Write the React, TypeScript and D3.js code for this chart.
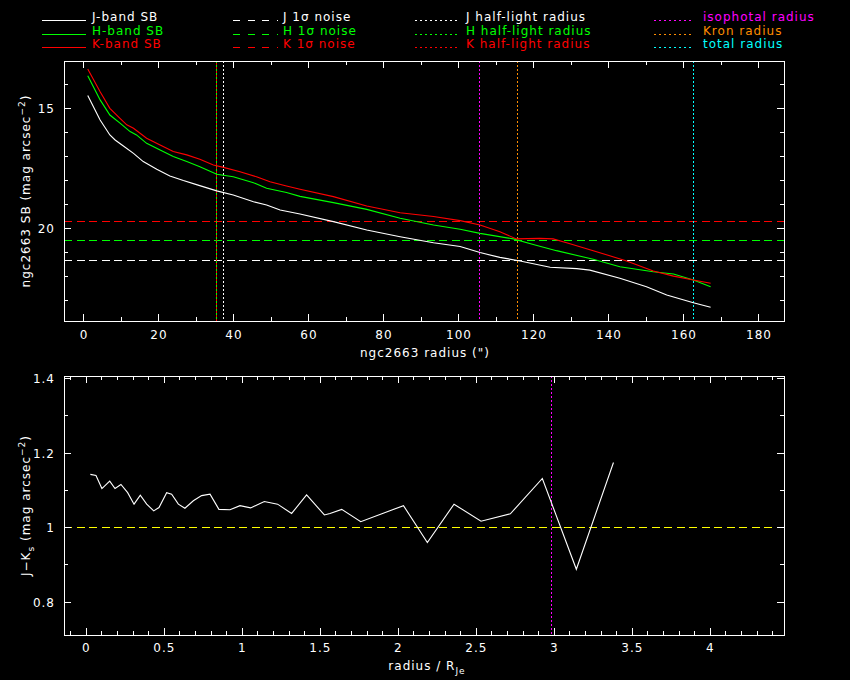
import React from "react";
import * as d3 from "d3";

// ---------- data ----------
const jRad = [1.0, 4.3, 6.9, 8.3, 10.5, 13.2, 15.8, 19.4, 22.9, 26.5, 30.0, 35.4, 39.8, 45.2, 48.7, 52.3, 57.6, 66.5, 75.4, 84.3, 93.2, 100.3, 105.6, 110.9, 116.3, 124.3, 131.4, 134.9, 142.9, 150.0, 155.4, 162.5, 167.1];
const jSB = [14.47, 15.49, 16.11, 16.32, 16.57, 16.88, 17.22, 17.54, 17.82, 18.01, 18.18, 18.44, 18.61, 18.89, 19.03, 19.24, 19.4, 19.72, 20.07, 20.35, 20.6, 20.76, 21.01, 21.21, 21.36, 21.62, 21.68, 21.74, 22.08, 22.43, 22.78, 23.1, 23.29];

const hRad = [1.0, 4.3, 6.9, 9.6, 12.3, 14.0, 16.7, 20.3, 23.8, 27.4, 30.9, 35.4, 39.8, 45.2, 48.7, 54.0, 57.6, 66.5, 75.4, 84.3, 93.2, 100.3, 105.6, 114.5, 119.8, 126.0, 135.8, 142.9, 151.8, 157.2, 162.5, 167.1];
const hSB = [13.64, 14.65, 15.28, 15.62, 15.97, 16.11, 16.46, 16.74, 17.01, 17.22, 17.43, 17.75, 17.85, 18.1, 18.33, 18.51, 18.67, 18.93, 19.21, 19.58, 19.86, 20.04, 20.21, 20.44, 20.67, 20.93, 21.29, 21.6, 21.81, 21.9, 22.15, 22.43];

const kRad = [1.0, 4.3, 6.9, 9.6, 11.4, 13.2, 16.7, 20.3, 23.8, 27.4, 30.9, 34.5, 37.2, 41.6, 46.0, 49.6, 54.0, 57.6, 66.5, 75.4, 84.3, 93.2, 100.3, 105.6, 110.9, 115.3, 121.5, 125.1, 128.7, 135.8, 144.7, 151.8, 157.2, 162.5, 167.1];
const kSB = [13.36, 14.31, 15.0, 15.42, 15.69, 15.83, 16.25, 16.53, 16.8, 16.94, 17.12, 17.36, 17.46, 17.64, 17.85, 18.06, 18.24, 18.375, 18.68, 19.07, 19.35, 19.51, 19.68, 19.86, 20.14, 20.44, 20.42, 20.44, 20.6, 20.93, 21.36, 21.78, 21.99, 22.15, 22.29];

const noiseLevels = [21.33, 20.5, 19.71]; // J, H, K 1-sigma noise
const halfLight = [37.15, 35.3, 35.3]; // J, H, K half-light radii
const isoRadius = 105.4;
const kronRadius = 115.6;
const totalRadius = 162.5;

const colRad = [0.026, 0.062, 0.1, 0.15, 0.184, 0.222, 0.265, 0.306, 0.346, 0.387, 0.432, 0.466, 0.515, 0.547, 0.59, 0.632, 0.686, 0.739, 0.793, 0.85, 0.921, 0.985, 1.053, 1.141, 1.226, 1.316, 1.412, 1.526, 1.562, 1.637, 1.759, 2.033, 2.186, 2.357, 2.53, 2.718, 2.923, 3.141, 3.379];
const colJK = [1.143, 1.14, 1.105, 1.125, 1.105, 1.116, 1.094, 1.063, 1.087, 1.063, 1.045, 1.054, 1.094, 1.09, 1.063, 1.052, 1.072, 1.086, 1.09, 1.049, 1.048, 1.059, 1.053, 1.07, 1.063, 1.038, 1.088, 1.034, 1.038, 1.049, 1.016, 1.059, 0.96, 1.063, 1.017, 1.037, 1.132, 0.888, 1.175];
const colRef = 1.0;
const colIsoRadius = 2.98;

const topXMajor = [0, 20, 40, 60, 80, 100, 120, 140, 160, 180];
const topXMinor = [10, 30, 50, 70, 90, 110, 130, 150, 170];
const topYMajor = [15, 20];
const topYMinor = [14, 16, 17, 18, 19, 21, 22, 23];
const botXMajor = [0, 0.5, 1, 1.5, 2, 2.5, 3, 3.5, 4];
const botXMinor = [-0.1, 0.1, 0.2, 0.3, 0.4, 0.6, 0.7, 0.8, 0.9, 1.1, 1.2, 1.3, 1.4, 1.6, 1.7, 1.8, 1.9, 2.1, 2.2, 2.3, 2.4, 2.6, 2.7, 2.8, 2.9, 3.1, 3.2, 3.3, 3.4, 3.6, 3.7, 3.8, 3.9, 4.1, 4.2, 4.3, 4.4];
const botYMajor = [0.8, 1, 1.2, 1.4];
const botYMinor = [0.9, 1.1, 1.3];

const legendCol1 = ["J-band SB", "H-band SB", "K-band SB"];
const legendCol2 = ["J 1σ noise", "H 1σ noise", "K 1σ noise"];
const legendCol3 = ["J half-light radius", "H half-light radius", "K half-light radius"];
const legendCol4 = ["isophotal radius", "Kron radius", "total radius"];

// ---------- styling ----------
const WHITE = "#ffffff";
const GREEN = "#00ff00";
const RED = "#ff0000";
const MAGENTA = "#ff00ff";
const ORANGE = "#ff8c00";
const CYAN = "#00ffff";
const YELLOW = "#ffff00";
const bandColors = [WHITE, GREEN, RED];
const col4Colors = [MAGENTA, ORANGE, CYAN];
const FONT = "'DejaVu Sans', sans-serif";
const FS = 12;
const LS = 1.0;
const DASH = "8,4.5";
const DOT = "2,2";

const TOP = { x0: 64, x1: 784, y0: 61, y1: 321 };
const BOT = { x0: 64, x1: 784, y0: 376, y1: 635 };

const xTop = d3.scaleLinear().domain([-5.333, 186.667]).range([TOP.x0, TOP.x1]);
const yTop = d3.scaleLinear().domain([13.03, 23.86]).range([TOP.y0, TOP.y1]);
const xBot = d3.scaleLinear().domain([-0.143, 4.472]).range([BOT.x0, BOT.x1]);
const yBot = d3.scaleLinear().domain([1.4075, 0.7113]).range([BOT.y0, BOT.y1]);

function Ticks({ f, xs, xMaj, xMin, ys, yMaj, yMin }: any) {
  const out: any[] = [];
  const add = (k: string, x1: number, y1: number, x2: number, y2: number) =>
    out.push(<line key={k} x1={x1} y1={y1} x2={x2} y2={y2} stroke={WHITE} strokeWidth={1} />);
  xMaj.forEach((v: number, i: number) => {
    const x = xs(v);
    add("xb" + i, x, f.y1, x, f.y1 - 7);
    add("xt" + i, x, f.y0, x, f.y0 + 7);
  });
  xMin.forEach((v: number, i: number) => {
    const x = xs(v);
    add("xbm" + i, x, f.y1, x, f.y1 - 4);
    add("xtm" + i, x, f.y0, x, f.y0 + 4);
  });
  yMaj.forEach((v: number, i: number) => {
    const y = ys(v);
    add("yl" + i, f.x0, y, f.x0 + 7, y);
    add("yr" + i, f.x1, y, f.x1 - 7, y);
  });
  yMin.forEach((v: number, i: number) => {
    const y = ys(v);
    add("ylm" + i, f.x0, y, f.x0 + 4, y);
    add("yrm" + i, f.x1, y, f.x1 - 4, y);
  });
  return <g shapeRendering="crispEdges">{out}</g>;
}

const txt = { fill: WHITE, fontFamily: FONT, fontSize: FS, letterSpacing: LS } as any;

export default function App() {
  const lineTop = (rs: number[], ms: number[]) =>
    d3.line<number>().x((_, i) => xTop(rs[i])).y((m) => yTop(m))(ms) || "";
  const lineBot = d3.line<number>().x((_, i) => xBot(colRad[i])).y((c) => yBot(c))(colJK) || "";

  const legRows = [21, 35, 48];

  return (
    <svg width={850} height={680} style={{ position: "fixed", left: 0, top: 0, background: "#000" }}>
      <rect x={0} y={0} width={850} height={680} fill="#000" />

      {/* legend */}
      {legendCol1.map((t, i) => (
        <g key={"l1" + i}>
          <line x1={42} x2={86} y1={legRows[i] - 1} y2={legRows[i] - 1} stroke={bandColors[i]} strokeWidth={1} shapeRendering="crispEdges" />
          <text x={92} y={legRows[i]} {...txt} fill={bandColors[i]}>{t}</text>
        </g>
      ))}
      {legendCol2.map((t, i) => (
        <g key={"l2" + i}>
          <line x1={233} x2={278} y1={legRows[i] - 1} y2={legRows[i] - 1} stroke={bandColors[i]} strokeWidth={1} strokeDasharray="7,7.5" shapeRendering="crispEdges" />
          <text x={283} y={legRows[i]} {...txt} fill={bandColors[i]}>{t}</text>
        </g>
      ))}
      {legendCol3.map((t, i) => (
        <g key={"l3" + i}>
          <line x1={415} x2={458} y1={legRows[i] - 1} y2={legRows[i] - 1} stroke={bandColors[i]} strokeWidth={1} strokeDasharray="1.5,3.5" shapeRendering="crispEdges" />
          <text x={466} y={legRows[i]} {...txt} fill={bandColors[i]}>{t}</text>
        </g>
      ))}
      {legendCol4.map((t, i) => (
        <g key={"l4" + i}>
          <line x1={654} x2={694} y1={legRows[i] - 1} y2={legRows[i] - 1} stroke={col4Colors[i]} strokeWidth={1} strokeDasharray="1.5,3.5" shapeRendering="crispEdges" />
          <text x={703} y={legRows[i]} {...txt} fill={col4Colors[i]}>{t}</text>
        </g>
      ))}

      {/* ---------- top panel ---------- */}
      <g shapeRendering="crispEdges">
        {noiseLevels.map((m, i) => (
          <line key={"n" + i} x1={TOP.x0} x2={TOP.x1} y1={yTop(m)} y2={yTop(m)} stroke={bandColors[i]} strokeDasharray={DASH} />
        ))}
        {halfLight.map((r, i) => (
          <line key={"hl" + i} x1={xTop(r)} x2={xTop(r)} y1={TOP.y0} y2={TOP.y1} stroke={bandColors[i]} strokeDasharray={DOT} strokeDashoffset={i === 2 ? 2 : 0} />
        ))}
        <line x1={xTop(isoRadius)} x2={xTop(isoRadius)} y1={TOP.y0} y2={TOP.y1} stroke={MAGENTA} strokeDasharray={DOT} />
        <line x1={xTop(kronRadius)} x2={xTop(kronRadius)} y1={TOP.y0} y2={TOP.y1} stroke={ORANGE} strokeDasharray={DOT} />
        <line x1={xTop(totalRadius)} x2={xTop(totalRadius)} y1={TOP.y0} y2={TOP.y1} stroke={CYAN} strokeDasharray={DOT} />
      </g>
      <path d={lineTop(jRad, jSB)} fill="none" stroke={WHITE} strokeWidth={1.1} />
      <path d={lineTop(hRad, hSB)} fill="none" stroke={GREEN} strokeWidth={1.1} />
      <path d={lineTop(kRad, kSB)} fill="none" stroke={RED} strokeWidth={1.1} />
      <rect x={TOP.x0} y={TOP.y0} width={TOP.x1 - TOP.x0} height={TOP.y1 - TOP.y0} fill="none" stroke={WHITE} strokeWidth={1} shapeRendering="crispEdges" />
      <Ticks f={TOP} xs={xTop} xMaj={topXMajor} xMin={topXMinor} ys={yTop} yMaj={topYMajor} yMin={topYMinor} />
      {topXMajor.map((v) => (
        <text key={"tx" + v} x={xTop(v)} y={339} textAnchor="middle" {...txt}>{v}</text>
      ))}
      {topYMajor.map((v) => (
        <text key={"ty" + v} x={55} y={yTop(v) + 4.5} textAnchor="end" {...txt}>{v}</text>
      ))}
      <text x={425} y={357} textAnchor="middle" {...txt}>ngc2663 radius (")</text>
      <text transform={`translate(30,${(TOP.y0 + TOP.y1) / 2}) rotate(-90)`} textAnchor="middle" {...txt}>
        ngc2663 SB (mag arcsec<tspan dy={-5} fontSize={9}>−2</tspan><tspan dy={5}>)</tspan>
      </text>

      {/* ---------- bottom panel ---------- */}
      <g shapeRendering="crispEdges">
        <line x1={BOT.x0} x2={BOT.x1} y1={yBot(colRef)} y2={yBot(colRef)} stroke={YELLOW} strokeDasharray={DASH} />
        <line x1={xBot(colIsoRadius)} x2={xBot(colIsoRadius)} y1={BOT.y0} y2={BOT.y1} stroke={MAGENTA} strokeDasharray={DOT} />
      </g>
      <path d={lineBot} fill="none" stroke={WHITE} strokeWidth={1.1} />
      <rect x={BOT.x0} y={BOT.y0} width={BOT.x1 - BOT.x0} height={BOT.y1 - BOT.y0} fill="none" stroke={WHITE} strokeWidth={1} shapeRendering="crispEdges" />
      <Ticks f={BOT} xs={xBot} xMaj={botXMajor} xMin={botXMinor} ys={yBot} yMaj={botYMajor} yMin={botYMinor} />
      {botXMajor.map((v) => (
        <text key={"bx" + v} x={xBot(v)} y={652} textAnchor="middle" {...txt}>{String(v)}</text>
      ))}
      {botYMajor.map((v) => (
        <text key={"by" + v} x={55} y={yBot(v) + 4.5} textAnchor="end" {...txt}>{String(v)}</text>
      ))}
      <text x={427} y={670} textAnchor="middle" {...txt}>
        radius / R<tspan dy={4} fontSize={9}>Je</tspan>
      </text>
      <text transform={`translate(30,${(BOT.y0 + BOT.y1) / 2}) rotate(-90)`} textAnchor="middle" {...txt}>
        J−K<tspan dy={4} fontSize={9}>s</tspan><tspan dy={-4}> (mag arcsec</tspan><tspan dy={-5} fontSize={9}>−2</tspan><tspan dy={5}>)</tspan>
      </text>
    </svg>
  );
}
